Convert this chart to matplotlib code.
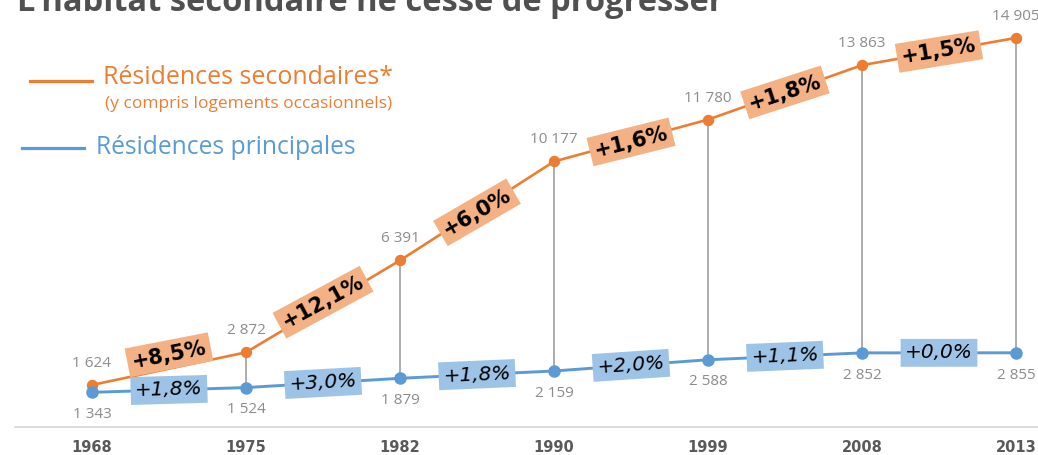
import numpy as np
import matplotlib
matplotlib.use("Agg")
import matplotlib.pyplot as plt
from matplotlib.lines import Line2D

# ---- data ----
years = ["1968", "1975", "1982", "1990", "1999", "2008", "2013"]
secondaires = [1624, 2872, 6391, 10177, 11780, 13863, 14905]
principales = [1343, 1524, 1879, 2159, 2588, 2852, 2855]
taux_secondaires = ["+8,5%", "+12,1%", "+6,0%", "+1,6%", "+1,8%", "+1,5%"]
taux_principales = ["+1,8%", "+3,0%", "+1,8%", "+2,0%", "+1,1%", "+0,0%"]

title = "L'habitat secondaire ne cesse de progresser"
leg_sec = "Résidences secondaires*"
leg_sec_sub = "(y compris logements occasionnels)"
leg_pri = "Résidences principales"

ORANGE = "#ED7D31"
BLUE = "#5B9BD5"
ORANGE_BOX = "#F4B183"
BLUE_BOX = "#9DC3E6"
GRAY_LBL = "#8C8C8C"

W, H = 1038, 455
fig = plt.figure(figsize=(W / 100, H / 100), dpi=100)
ax = fig.add_axes([0, 0, 1, 1])
ax.set_axis_off()

x = np.arange(len(years))
ppx = 154.0
ppy = 0.02613
ax.set_xlim(-92 / ppx, (W - 92) / ppx)
ax.set_ylim(-(H - 427.4) / ppy, 427.4 / ppy)

def fx(px):
    return px / W

def fy(py):
    return 1 - py / H

# baseline
ax.add_line(Line2D([fx(15), fx(W)], [fy(426.5), fy(426.5)], transform=fig.transFigure,
                   color="#D9D9D9", lw=1.3))

# drop lines
ax.vlines(x, principales, secondaires, color="#A6A6A6", lw=1.3, zorder=1)

# series
ax.plot(x, secondaires, color=ORANGE, lw=1.9, marker="o", ms=7.2, zorder=3)
ax.plot(x, principales, color=BLUE, lw=2.1, marker="o", ms=8, zorder=3)

def fmt(v):
    return f"{v:,}".replace(",", " ")

for xi, v in zip(x, secondaires):
    ax.annotate(fmt(v), (xi, v), xytext=(0, 15.5), textcoords="offset points",
                ha="center", va="center", fontsize=11, color=GRAY_LBL,
                family="Open Sans", zorder=4)
for xi, v in zip(x, principales):
    ax.annotate(fmt(v), (xi, v), xytext=(0, -16), textcoords="offset points",
                ha="center", va="center", fontsize=11, color=GRAY_LBL,
                family="Open Sans", zorder=4)

# growth labels on segments
def seg_labels(vals, labels, boxcol, bold, italic, dy_list, fs):
    for i, lab in enumerate(labels):
        x0, x1 = x[i], x[i + 1]
        y0, y1 = vals[i], vals[i + 1]
        p0 = ax.transData.transform((x0, y0))
        p1 = ax.transData.transform((x1, y1))
        ang = np.degrees(np.arctan2(p1[1] - p0[1], p1[0] - p0[0]))
        ax.annotate(lab, ((x0 + x1) / 2, (y0 + y1) / 2), xytext=(0, dy_list[i]),
                    textcoords="offset points", ha="center", va="center",
                    rotation=ang * 0.92, rotation_mode="anchor",
                    fontsize=fs, fontweight="bold" if bold else "normal",
                    fontstyle="italic" if italic else "normal",
                    family="DejaVu Sans", color="black", zorder=5,
                    bbox=dict(boxstyle="square,pad=0.22", fc=boxcol, ec="none"))

seg_labels(secondaires, taux_secondaires, ORANGE_BOX, True, False,
           [10, 3, -1, -1, 0, 0], 15)
seg_labels(principales, taux_principales, BLUE_BOX, False, True,
           [0, 0, 0, 0, 0, 0], 14.5)

# year labels
for xi, yr in zip(x, years):
    ax.annotate(yr, (xi, 0), xytext=(0, -14.5), textcoords="offset points",
                ha="center", va="center", fontsize=10.5, fontweight="bold",
                color="#595959", family="DejaVu Sans")

# title (cut at top, as in the reference)
fig.text(fx(17), fy(11), title, ha="left", va="baseline", fontsize=23.5,
         fontweight="bold", color="#505050", family="Open Sans")

# legend
ax.add_line(Line2D([fx(30), fx(92)], [fy(81), fy(81)], transform=fig.transFigure,
                   color=ORANGE, lw=2.3))
fig.text(fx(103), fy(77), leg_sec, ha="left", va="center", fontsize=18,
         color=ORANGE, family="Open Sans")
fig.text(fx(105), fy(104), leg_sec_sub, ha="left", va="center", fontsize=12.5,
         color=ORANGE, family="Open Sans")
ax.add_line(Line2D([fx(22), fx(84)], [fy(148), fy(148)], transform=fig.transFigure,
                   color=BLUE, lw=2.3))
fig.text(fx(96), fy(147), leg_pri, ha="left", va="center", fontsize=17.7,
         color=BLUE, family="Open Sans")

fig.savefig("out.png", dpi=100)
